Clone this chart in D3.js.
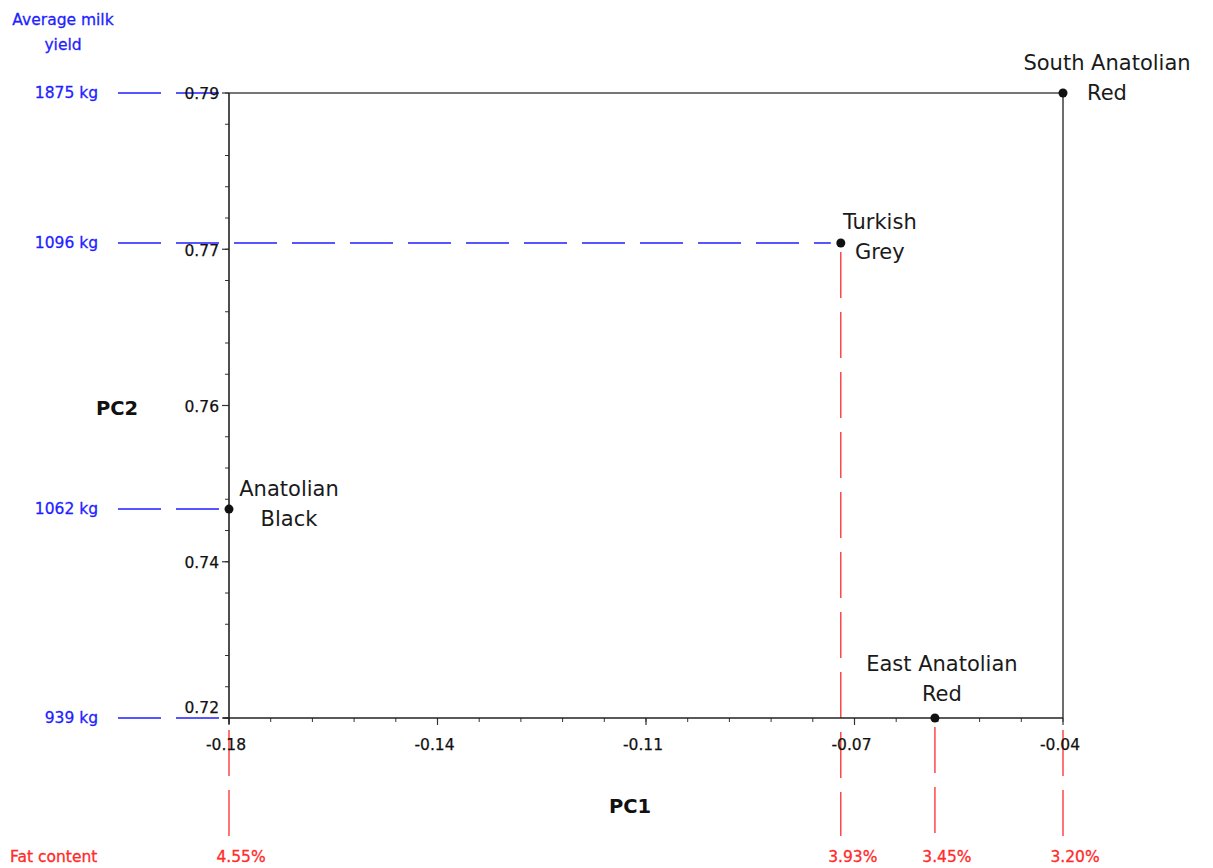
<!DOCTYPE html>
<html>
<head>
<meta charset="utf-8">
<script src="https://cdn.jsdelivr.net/npm/d3@7"></script>
<style>
  body { margin: 0; background: #fff; }
  text { font-family: "DejaVu Sans", Verdana, sans-serif; }
</style>
</head>
<body>
<div id="chart"></div>
<script>
// breeds and their PC scores
var breeds = ["South Anatolian Red", "Turkish Grey", "Anatolian Black", "East Anatolian Red"];
var pc1 = [-0.04, -0.0773, -0.18, -0.0615];
var pc2 = [0.79, 0.7732, 0.7434, 0.72];
var milkYield = ["1875 kg", "1096 kg", "1062 kg", "939 kg"];
var fatContent = ["3.20%", "3.93%", "4.55%", "3.45%"];

var xTickLabels = ["-0.18", "-0.14", "-0.11", "-0.07", "-0.04"];
var yTickLabels = ["0.72", "0.74", "0.76", "0.77", "0.79"];

var data = breeds.map(function(b, i) {
    return { name: b, x: pc1[i], y: pc2[i], milk: milkYield[i], fat: fatContent[i] };
});

var W = 1213, H = 868;
var svg = d3.select("#chart").append("svg")
    .attr("width", W)
    .attr("height", H);

var xScale = d3.scaleLinear().domain([-0.18, -0.04]).range([229, 1063]);
var yScale = d3.scaleLinear().domain([0.72, 0.79]).range([718, 93]);

var xMajor = d3.range(5).map(function(i) { return -0.18 + i * 0.035; });
var yMajor = d3.range(5).map(function(i) { return 0.72 + i * 0.0175; });
var xMinor = d3.range(21).map(function(i) { return -0.18 + i * 0.007; });
var yMinor = d3.range(21).map(function(i) { return 0.72 + i * 0.0035; });

var x0 = xScale(-0.18), x1 = xScale(-0.04);
var y0 = yScale(0.72), y1 = yScale(0.79);

var blue = "#1f1fff", red = "#ff2a2a";

// guides: blue to the milk labels, red down to the fat labels
var guideLeft = 118, guideBottom = 836;

svg.append("g").selectAll("line")
    .data(data)
    .enter().append("line")
    .attr("x1", guideLeft)
    .attr("x2", function(d) {
        var inside = d.y > 0.72 && d.y < 0.79;
        return inside ? xScale(d.x) - 10 : x0;
    })
    .attr("y1", function(d) { return yScale(d.y); })
    .attr("y2", function(d) { return yScale(d.y); })
    .attr("stroke", blue)
    .attr("stroke-width", 1.4)
    .attr("stroke-dasharray", "43,15");

svg.append("g").selectAll("line")
    .data(data)
    .enter().append("line")
    .attr("x1", function(d) { return xScale(d.x); })
    .attr("x2", function(d) { return xScale(d.x); })
    .attr("y1", function(d) {
        var inside = d.x > -0.18 && d.x < -0.04;
        return inside ? yScale(d.y) + 9 : y0 + 12;
    })
    .attr("y2", guideBottom)
    .attr("stroke", red)
    .attr("stroke-width", 1.3)
    .attr("stroke-dasharray", "46,14");

// frame top and right
svg.append("path")
    .attr("d", "M" + x0 + "," + y1 + "H" + x1 + "V" + y0)
    .attr("fill", "none")
    .attr("stroke", "#4a4a4a")
    .attr("stroke-width", 1.6);

// y axis
var yAxis = svg.append("g").attr("class", "y-axis");
yAxis.selectAll(".minor").data(yMinor).enter().append("line")
    .attr("x1", x0 - 4).attr("x2", x0)
    .attr("y1", function(d) { return yScale(d); })
    .attr("y2", function(d) { return yScale(d); })
    .attr("stroke", "#333").attr("stroke-width", 1);
yAxis.selectAll(".major").data(yMajor).enter().append("line")
    .attr("x1", x0 - 7).attr("x2", x0)
    .attr("y1", function(d) { return yScale(d); })
    .attr("y2", function(d) { return yScale(d); })
    .attr("stroke", "#333").attr("stroke-width", 1.2);
yAxis.selectAll("text").data(yMajor).enter().append("text")
    .attr("x", x0 - 10)
    .attr("y", function(d, i) { return yScale(d) + (i === 0 ? -10 : 1); })
    .attr("dy", "0.35em")
    .attr("text-anchor", "end")
    .attr("font-size", 15.5)
    .attr("fill", "#111")
    .attr("stroke", "#111").attr("stroke-width", 0.25)
    .text(function(d, i) { return yTickLabels[i]; });
yAxis.append("line")
    .attr("x1", x0).attr("x2", x0)
    .attr("y1", y1).attr("y2", y0 + 6)
    .attr("stroke", "#222").attr("stroke-width", 1.6);

// x axis
var xAxis = svg.append("g").attr("class", "x-axis");
xAxis.selectAll(".minor").data(xMinor).enter().append("line")
    .attr("x1", function(d) { return xScale(d); })
    .attr("x2", function(d) { return xScale(d); })
    .attr("y1", y0).attr("y2", y0 + 4)
    .attr("stroke", "#333").attr("stroke-width", 1);
xAxis.selectAll(".major").data(xMajor).enter().append("line")
    .attr("x1", function(d) { return xScale(d); })
    .attr("x2", function(d) { return xScale(d); })
    .attr("y1", y0).attr("y2", y0 + 7)
    .attr("stroke", "#333").attr("stroke-width", 1.2);
xAxis.selectAll("text").data(xMajor).enter().append("text")
    .attr("x", function(d) { return xScale(d) - 3; })
    .attr("y", y0 + 32)
    .attr("text-anchor", "middle")
    .attr("font-size", 15.5)
    .attr("fill", "#111")
    .attr("stroke", "#111").attr("stroke-width", 0.25)
    .text(function(d, i) { return xTickLabels[i]; });
xAxis.append("line")
    .attr("x1", x0 - 6).attr("x2", x1)
    .attr("y1", y0).attr("y2", y0)
    .attr("stroke", "#222").attr("stroke-width", 1.6);

// axis titles
svg.append("text")
    .attr("x", 117).attr("y", 415)
    .attr("text-anchor", "middle")
    .attr("font-size", 19.5).attr("font-weight", "bold")
    .attr("fill", "#111")
    .text("PC2");
svg.append("text")
    .attr("x", 630).attr("y", 813)
    .attr("text-anchor", "middle")
    .attr("font-size", 19.5).attr("font-weight", "bold")
    .attr("fill", "#111")
    .text("PC1");

// points
svg.append("g").selectAll("circle")
    .data(data)
    .enter().append("circle")
    .attr("cx", function(d) { return xScale(d.x); })
    .attr("cy", function(d) { return yScale(d.y); })
    .attr("r", 4.5)
    .attr("fill", "#111");

// point labels, two lines each
var labelOffsets = {
    "South Anatolian Red": { dx: 44, dy: -23, lines: ["South Anatolian", "Red"] },
    "Turkish Grey": { dx: 39, dy: -14, lines: ["Turkish", "Grey"] },
    "Anatolian Black": { dx: 60, dy: -13, lines: ["Anatolian", "Black"] },
    "East Anatolian Red": { dx: 7, dy: -47, lines: ["East Anatolian", "Red"] }
};

var labels = svg.append("g").selectAll("text")
    .data(data)
    .enter().append("text")
    .attr("text-anchor", "middle")
    .attr("font-size", 21)
    .attr("fill", "#1a1a1a");
labels.each(function(d) {
    var o = labelOffsets[d.name];
    var cx = xScale(d.x) + o.dx;
    var cy = yScale(d.y) + o.dy;
    d3.select(this).selectAll("tspan")
        .data(o.lines)
        .enter().append("tspan")
        .attr("x", cx)
        .attr("y", function(l, i) { return cy + i * 30; })
        .text(function(l) { return l; });
});

// milk yield labels (blue)
svg.append("text")
    .attr("text-anchor", "middle")
    .attr("font-size", 15.5)
    .attr("fill", blue)
    .attr("stroke", blue).attr("stroke-width", 0.3)
    .selectAll("tspan")
    .data(["Average milk", "yield"])
    .enter().append("tspan")
    .attr("x", 63)
    .attr("y", function(d, i) { return 25 + i * 25; })
    .text(function(d) { return d; });

svg.append("g").selectAll("text")
    .data(data)
    .enter().append("text")
    .attr("x", 98)
    .attr("y", function(d) { return yScale(d.y); })
    .attr("dy", "0.35em")
    .attr("text-anchor", "end")
    .attr("font-size", 15.5)
    .attr("fill", blue)
    .attr("stroke", blue).attr("stroke-width", 0.3)
    .text(function(d) { return d.milk; });

// fat content labels (red)
svg.append("text")
    .attr("x", 10).attr("y", 862)
    .attr("font-size", 15.5)
    .attr("fill", red)
    .attr("stroke", red).attr("stroke-width", 0.3)
    .text("Fat content");

svg.append("g").selectAll("text")
    .data(data)
    .enter().append("text")
    .attr("x", function(d) { return xScale(d.x) + 12; })
    .attr("y", 862)
    .attr("text-anchor", "middle")
    .attr("font-size", 15.5)
    .attr("fill", red)
    .attr("stroke", red).attr("stroke-width", 0.3)
    .text(function(d) { return d.fat; });
</script>
</body>
</html>
